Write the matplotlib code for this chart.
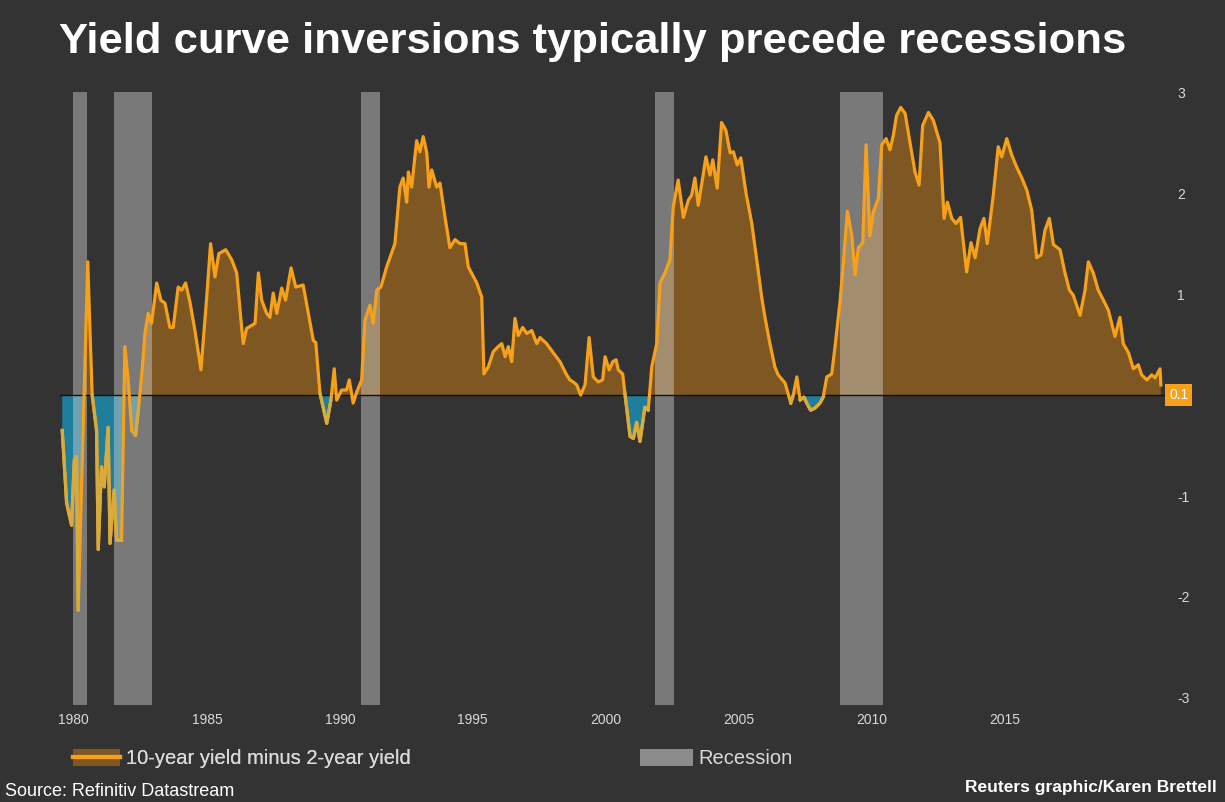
import numpy as np
import matplotlib
matplotlib.use("Agg")
import matplotlib.pyplot as plt
from matplotlib.patches import Patch
from matplotlib.lines import Line2D

plt.rcParams['font.family'] = ['Liberation Sans', 'DejaVu Sans']

# 10-year minus 2-year Treasury yield spread (fractional years, percentage points)
dates = [
    1979.61, 1979.77, 1979.95, 1980.05, 1980.13, 1980.19, 1980.54, 1980.62, 1980.70, 1980.86,
    1980.92, 1981.04, 1981.14, 1981.28, 1981.35, 1981.50, 1981.59, 1981.77, 1981.89, 1982.01,
    1982.14, 1982.28, 1982.38, 1982.52, 1982.62, 1982.74, 1982.86, 1983.05, 1983.20, 1983.35,
    1983.53, 1983.65, 1983.83, 1983.96, 1984.10, 1984.26, 1984.44, 1984.66, 1984.87, 1985.01,
    1985.17, 1985.31, 1985.56, 1985.78, 1985.96, 1986.14, 1986.20, 1986.32, 1986.63, 1986.75,
    1986.87, 1987.05, 1987.17, 1987.29, 1987.42, 1987.60, 1987.74, 1987.94, 1988.11, 1988.38,
    1988.57, 1988.75, 1988.84, 1988.99, 1989.24, 1989.39, 1989.51, 1989.60, 1989.78, 1989.96,
    1990.06, 1990.20, 1990.33, 1990.51, 1990.63, 1990.81, 1990.93, 1991.06, 1991.21, 1991.42,
    1991.72, 1991.90, 1992.02, 1992.15, 1992.21, 1992.33, 1992.51, 1992.63, 1992.75, 1992.88,
    1992.96, 1993.06, 1993.24, 1993.36, 1993.54, 1993.72, 1993.91, 1994.09, 1994.27, 1994.39,
    1994.70, 1994.88, 1994.96, 1995.12, 1995.30, 1995.48, 1995.61, 1995.73, 1995.85, 1995.97,
    1996.09, 1996.21, 1996.37, 1996.52, 1996.70, 1996.88, 1997.00, 1997.24, 1997.48, 1997.73,
    1997.97, 1998.09, 1998.21, 1998.34, 1998.48, 1998.64, 1998.79, 1998.94, 1999.12, 1999.28,
    1999.37, 1999.52, 1999.65, 1999.77, 1999.85, 2000.01, 2000.09, 2000.28, 2000.40, 2000.52,
    2000.64, 2000.82, 2000.94, 2001.07, 2001.25, 2001.37, 2001.55, 2001.73, 2001.85, 2002.03,
    2002.22, 2002.40, 2002.52, 2002.64, 2002.76, 2002.94, 2003.04, 2003.19, 2003.29, 2003.45,
    2003.61, 2003.77, 2003.92, 2004.04, 2004.18, 2004.31, 2004.50, 2004.71, 2004.89, 2005.07,
    2005.19, 2005.37, 2005.55, 2005.67, 2005.92, 2006.13, 2006.22, 2006.35, 2006.47, 2006.61,
    2006.71, 2006.85, 2007.01, 2007.19, 2007.31, 2007.44, 2007.62, 2007.74, 2007.92, 2008.07,
    2008.19, 2008.35, 2008.47, 2008.59, 2008.75, 2008.87, 2009.01, 2009.13, 2009.32, 2009.44,
    2009.60, 2009.74, 2009.86, 2009.98, 2010.13, 2010.29, 2010.47, 2010.65, 2010.80, 2010.93,
    2011.14, 2011.32, 2011.56, 2011.71, 2011.83, 2011.99, 2012.14, 2012.31, 2012.53, 2012.69,
    2012.84, 2013.02, 2013.16, 2013.28, 2013.50, 2013.68, 2013.81, 2013.99, 2014.17, 2014.35,
    2014.54, 2014.72, 2014.90, 2015.08, 2015.24, 2015.38, 2015.54, 2015.69, 2015.93, 2016.11,
    2016.27, 2016.41, 2016.66, 2016.84, 2016.96, 2017.14, 2017.32, 2017.51, 2017.69, 2017.93,
    2018.11, 2018.23, 2018.42, 2018.60, 2018.78, 2018.90, 2019.09, 2019.27, 2019.39, 2019.57,
    2019.60,
]
spread = [
    -0.35, -1.07, -1.29, -0.64, -0.61, -2.13, 1.32, 0.64, 0.00, -0.35,
    -1.53, -0.71, -0.91, -0.32, -1.47, -0.94, -1.44, -1.44, 0.48, 0.15,
    -0.35, -0.40, -0.15, 0.25, 0.61, 0.81, 0.71, 1.11, 0.94, 0.91,
    0.67, 0.67, 1.07, 1.04, 1.11, 0.92, 0.64, 0.25, 0.97, 1.50,
    1.17, 1.40, 1.44, 1.34, 1.21, 0.67, 0.51, 0.66, 0.71, 1.21,
    0.94, 0.81, 0.77, 1.01, 0.81, 1.06, 0.94, 1.26, 1.07, 1.09,
    0.81, 0.54, 0.52, 0.02, -0.28, -0.05, 0.26, -0.05, 0.05, 0.05,
    0.15, -0.08, 0.03, 0.15, 0.74, 0.89, 0.71, 1.04, 1.07, 1.27,
    1.50, 2.06, 2.15, 1.91, 2.21, 2.06, 2.52, 2.41, 2.56, 2.40,
    2.06, 2.23, 2.06, 2.10, 1.77, 1.46, 1.54, 1.50, 1.50, 1.27,
    1.11, 0.97, 0.21, 0.28, 0.43, 0.48, 0.51, 0.38, 0.48, 0.33,
    0.76, 0.59, 0.67, 0.61, 0.64, 0.51, 0.57, 0.51, 0.42, 0.33,
    0.20, 0.15, 0.13, 0.10, 0.00, 0.10, 0.57, 0.18, 0.13, 0.15,
    0.38, 0.25, 0.33, 0.35, 0.25, 0.21, 0.02, -0.41, -0.43, -0.27,
    -0.46, -0.12, -0.15, 0.28, 0.51, 1.11, 1.21, 1.34, 1.86, 2.13,
    1.76, 1.93, 1.98, 2.15, 1.88, 2.18, 2.36, 2.18, 2.33, 2.05,
    2.70, 2.62, 2.40, 2.41, 2.28, 2.35, 2.00, 1.70, 1.34, 0.97,
    0.77, 0.51, 0.28, 0.20, 0.12, -0.08, 0.00, 0.18, -0.05, -0.02,
    -0.08, -0.15, -0.13, -0.08, -0.02, 0.18, 0.21, 0.48, 0.92, 1.40,
    1.82, 1.58, 1.19, 1.46, 1.51, 2.48, 1.58, 1.81, 1.95, 2.48,
    2.54, 2.43, 2.57, 2.77, 2.85, 2.79, 2.50, 2.21, 2.08, 2.67,
    2.80, 2.72, 2.50, 1.75, 1.91, 1.75, 1.70, 1.76, 1.22, 1.51,
    1.36, 1.65, 1.75, 1.50, 1.98, 2.46, 2.36, 2.54, 2.38, 2.26,
    2.15, 2.03, 1.83, 1.36, 1.39, 1.63, 1.75, 1.49, 1.44, 1.21,
    1.04, 0.99, 0.79, 1.04, 1.32, 1.21, 1.04, 0.94, 0.84, 0.58,
    0.77, 0.51, 0.42, 0.26, 0.30, 0.20, 0.15, 0.20, 0.17, 0.26,
    0.10,
]

# US recessions (start, end) in fractional years
rec_start = [1980.00, 1981.50, 1990.50, 2001.17, 2007.92]
rec_end = [1980.50, 1982.87, 1991.17, 2001.87, 2009.50]

tick_labels = ['1980', '1985', '1990', '1995', '2000', '2005', '2010', '2015']
tick_pos = [1980.00, 1984.88, 1989.72, 1994.52, 1999.40, 2004.24, 2009.09, 2013.93]

BG = '#333333'
ORANGE = '#f7a11a'
FILL_POS = '#7e5722'
FILL_NEG = '#1f7e9c'
TXT = '#d9d9d9'

x = np.array(dates)
v = np.array(spread)

fig = plt.figure(figsize=(12.25, 8.02), dpi=100, facecolor=BG)
ax = fig.add_axes([0.049, 0.121, 0.902, 0.764], facecolor=BG)

ax.fill_between(x, v, 0, where=v >= 0, interpolate=True, color=FILL_POS, lw=0, zorder=1)
ax.fill_between(x, v, 0, where=v <= 0, interpolate=True, color=FILL_NEG, lw=0, zorder=1)

for s, e in zip(rec_start, rec_end):
    ax.axvspan(s, e, color='#cfcfcf', alpha=0.45, lw=0, zorder=2)

ax.axhline(0, color='#111111', lw=1.0, zorder=2.5)
ax.plot(x, v, color=ORANGE, lw=2.3, solid_joinstyle='round', zorder=3)
neg = np.ma.masked_where(v > 0.02, v)
ax.plot(x, neg, color='#d8ab3e', lw=2.3, solid_joinstyle='round', zorder=3.1)

ax.set_xlim(1979.53, 2019.75)
ax.set_ylim(-3.07, 3.0)
for sp in ax.spines.values():
    sp.set_visible(False)

ax.yaxis.tick_right()
ax.set_yticks([-3, -2, -1, 1, 2, 3])
ax.set_yticklabels(['-3', '-2', '-1', '1', '2', '3'])
ax.set_xticks(tick_pos)
ax.set_xticklabels(tick_labels)
ax.tick_params(axis='y', length=0, pad=9, labelsize=10, labelcolor=TXT)
ax.tick_params(axis='x', length=0, pad=6, labelsize=10, labelcolor=TXT)

# last-value tag on the right edge
ax.annotate(f'{v[-1]:.1f}', xy=(1.0, v[-1]), xycoords=ax.get_yaxis_transform(),
            xytext=(3, -7), textcoords='offset points', ha='left', va='center',
            fontsize=10, color='white',
            bbox=dict(boxstyle='square,pad=0.3', fc=ORANGE, ec='none'))

fig.text(0.484, 0.948, 'Yield curve inversions typically precede recessions',
         ha='center', va='center', fontsize=31.3, fontweight='bold', color='white')

h1 = (Patch(fc=FILL_POS, ec='none'), Line2D([], [], color=ORANGE, lw=3))
leg1 = fig.legend([h1], ['10-year yield minus 2-year yield'], loc='center left',
                  bbox_to_anchor=(0.045, 0.054), frameon=False, fontsize=14.5,
                  labelcolor=TXT, handlelength=2.3, handleheight=0.9, handletextpad=0.3)
leg2 = fig.legend([Patch(fc='#8c8c8c', ec='none')], ['Recession'], loc='center left',
                  bbox_to_anchor=(0.508, 0.054), frameon=False, fontsize=14.5,
                  labelcolor=TXT, handlelength=2.6, handleheight=0.9, handletextpad=0.3)
fig.add_artist(leg1)

fig.text(0.004, 0.003, 'Source: Refinitiv Datastream', ha='left', va='bottom',
         fontsize=13, color='white')
fig.text(0.993, 0.009, 'Reuters graphic/Karen Brettell', ha='right', va='bottom',
         fontsize=12.5, fontweight='bold', color='white')

fig.savefig('out.png', dpi=100, facecolor=BG)
